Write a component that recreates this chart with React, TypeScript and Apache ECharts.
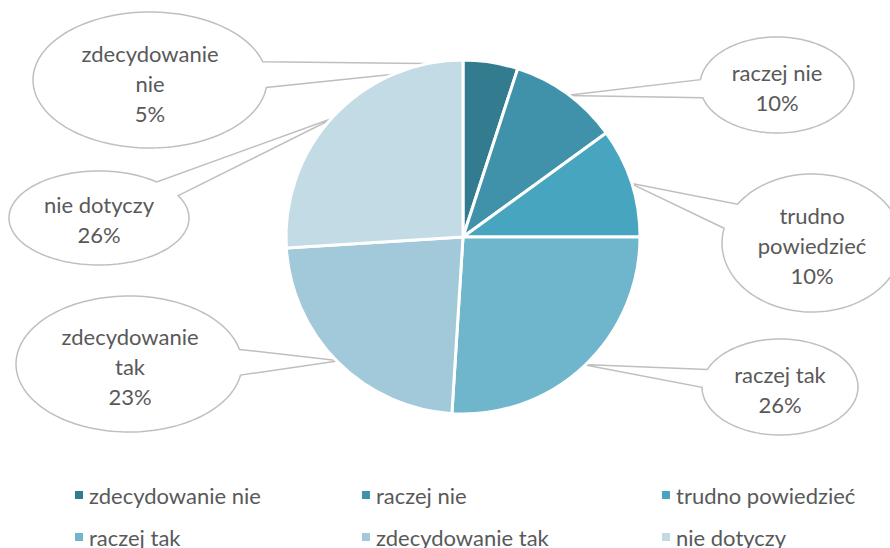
import React, { useEffect, useRef } from "react";
import * as echarts from "echarts";

const categories = [
  "zdecydowanie nie",
  "raczej nie",
  "trudno powiedzieć",
  "raczej tak",
  "zdecydowanie tak",
  "nie dotyczy",
];
const values = [5, 10, 10, 26, 23, 26];
const labelTexts = [
  "zdecydowanie\nnie",
  "raczej nie",
  "trudno\npowiedzieć",
  "raczej tak",
  "zdecydowanie\ntak",
  "nie dotyczy",
];
const colors = ["#337c8f", "#4091aa", "#48a5c0", "#6fb5cc", "#a1c9da", "#c2dbe4"];

// callout layout (ellipse centers / radii, label centers)
const calloutBoxes = [
  { cx: 150, cy: 80, rx: 117, ry: 68, tx: 150, ty: 83 },
  { cx: 777, cy: 85, rx: 77, ry: 48, tx: 777, ty: 87 },
  { cx: 812, cy: 243, rx: 90, ry: 69, tx: 812, ty: 245 },
  { cx: 780, cy: 387, rx: 78, ry: 48, tx: 780, ty: 389 },
  { cx: 129, cy: 364, rx: 113, ry: 68, tx: 130, ty: 366 },
  { cx: 99, cy: 218, rx: 90, ry: 47, tx: 99, ty: 219 },
];
// legend grid: item positions (left, top)
const legendPos = [
  [73, 484],
  [360, 484],
  [660, 484],
  [73, 526],
  [360, 526],
  [660, 526],
];

const PIE_CX = 463;
const PIE_CY = 237;
const PIE_R = 177;
const FONT = "Lato, 'Noto Sans', sans-serif";

function buildCallouts() {
  const total = values.reduce((a, b) => a + b, 0);
  let cum = 0;
  return values.map((v, i) => {
    const mid = (cum + v / 2) / total;
    cum += v;
    const ang = mid * Math.PI * 2;
    const px = PIE_CX + (PIE_R - 2) * Math.sin(ang);
    const py = PIE_CY - (PIE_R - 2) * Math.cos(ang);
    const b = calloutBoxes[i];
    const th = Math.atan2((py - b.cy) / b.ry, (px - b.cx) / b.rx);
    const d = 0.19;
    const a0 = th + d;
    const a1 = th - d + Math.PI * 2;
    const pts: number[][] = [];
    const N = 140;
    for (let k = 0; k <= N; k++) {
      const t = a0 + ((a1 - a0) * k) / N;
      pts.push([b.cx + b.rx * Math.cos(t), b.cy + b.ry * Math.sin(t)]);
    }
    pts.push([px, py]);
    return {
      type: "polygon",
      z: 1,
      silent: true,
      shape: { points: pts },
      style: { fill: "#ffffff", stroke: "#bfbfbf", lineWidth: 1.5 },
    };
  });
}

export default function App() {
  const ref = useRef<HTMLDivElement>(null);
  useEffect(() => {
    document.body.style.margin = "0";
    const chart = echarts.init(ref.current!, null, { renderer: "svg" });
    const legendText = { color: "#595959", fontSize: 22, fontFamily: FONT };
    const legends = categories.map((c, i) => ({
      left: legendPos[i][0],
      top: legendPos[i][1],
      padding: 0,
      orient: "horizontal",
      icon: "rect",
      itemWidth: 10,
      itemHeight: 10,
      textStyle: legendText,
      data: [c],
    }));
    chart.setOption({
      animation: false,
      color: colors,
      graphic: buildCallouts(),
      legend: legends,
      series: [
        {
          type: "pie",
          center: [PIE_CX, PIE_CY],
          radius: PIE_R,
          startAngle: 90,
          clockwise: true,
          avoidLabelOverlap: false,
          itemStyle: { borderColor: "#ffffff", borderWidth: 3 },
          emphasis: { disabled: true },
          label: {
            show: true,
            position: "outside",
            color: "#595959",
            fontSize: 22,
            lineHeight: 30,
            fontFamily: FONT,
            align: "center",
            formatter: (p: any) => `${labelTexts[p.dataIndex]}\n${p.value}%`,
          },
          labelLine: { show: false },
          labelLayout: (p: any) => {
            const b = calloutBoxes[p.dataIndex];
            return { x: b.tx, y: b.ty, align: "center", verticalAlign: "middle" };
          },
          data: categories.map((c, i) => ({ name: c, value: values[i] })),
        },
      ],
    });
    return () => chart.dispose();
  }, []);
  return (
    <div
      ref={ref}
      style={{ position: "absolute", left: 0, top: 0, width: 890, height: 548 }}
    />
  );
}
